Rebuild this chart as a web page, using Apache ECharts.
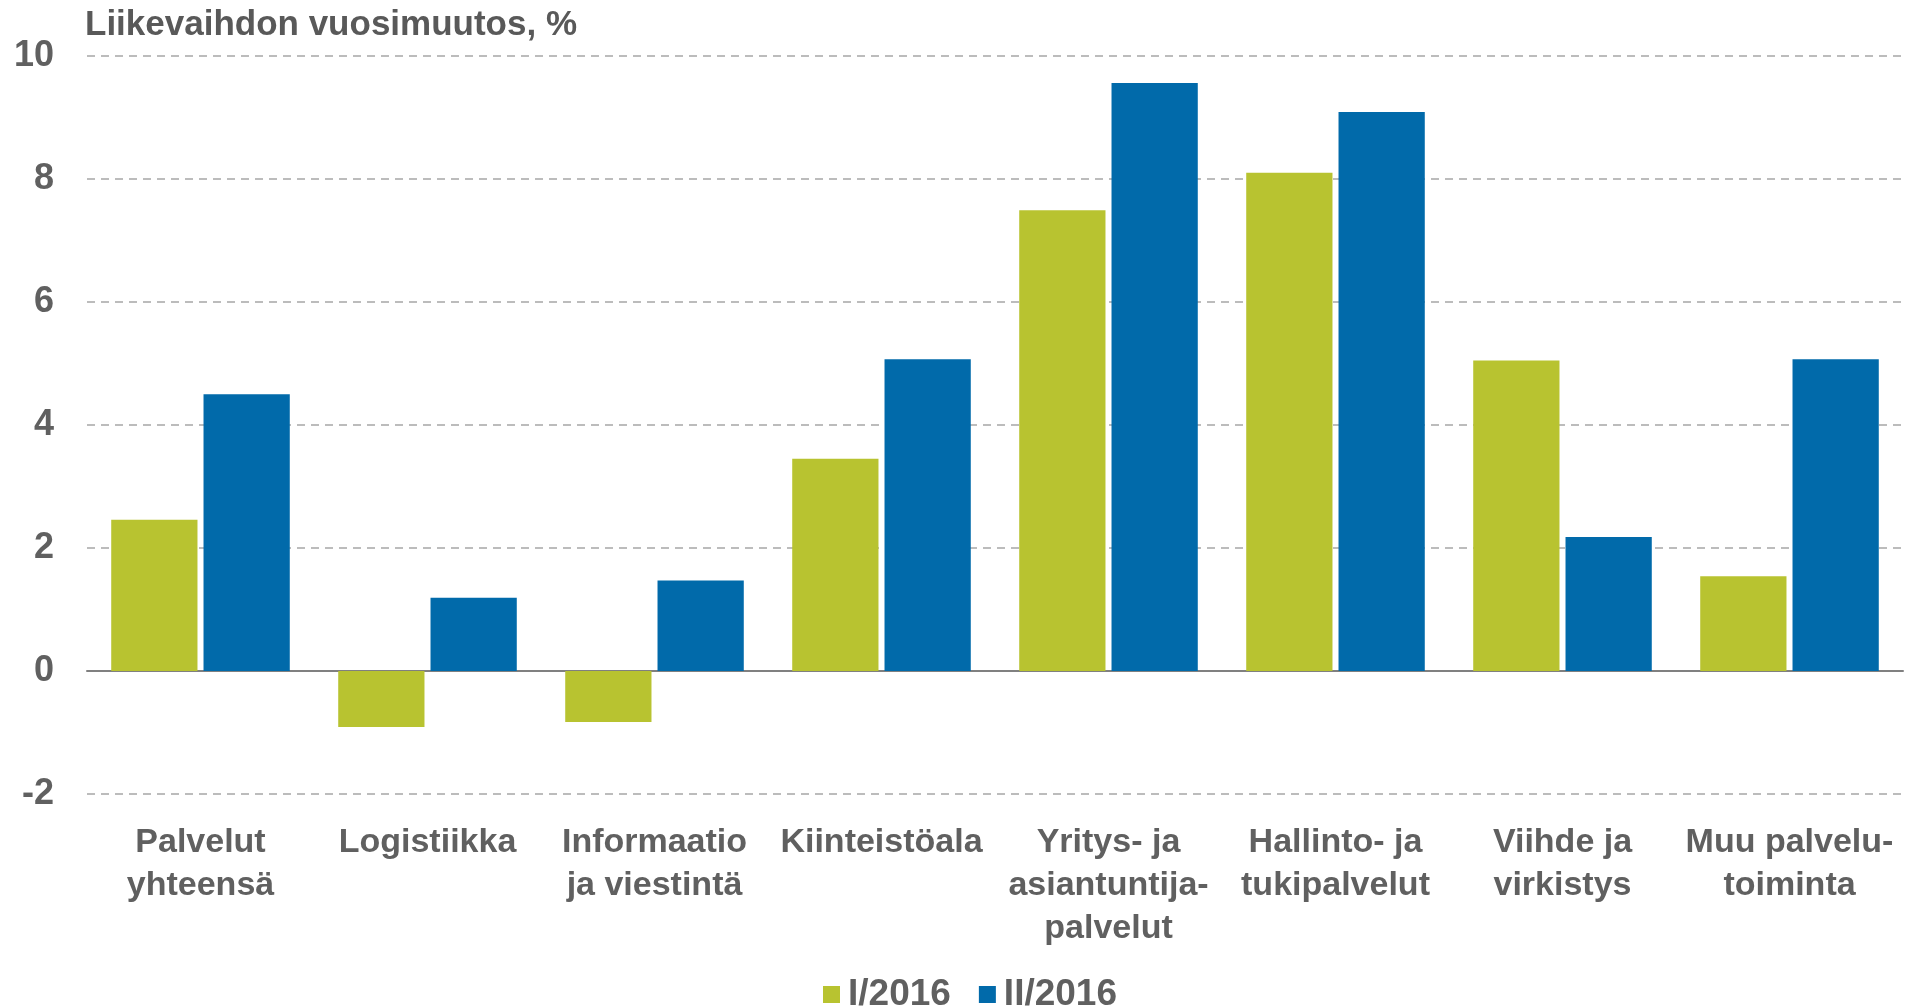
<!DOCTYPE html>
<html>
<head>
<meta charset="utf-8">
<script src="https://cdn.jsdelivr.net/npm/echarts@6/dist/echarts.min.js"></script>
<style>
  html, body { margin: 0; padding: 0; background: #fff; }
  #chart { width: 1905px; height: 1008px; }
</style>
</head>
<body>
<div id="chart"></div>
<script>
var categories = [
    'Palvelut\nyhteensä',
    'Logistiikka',
    'Informaatio\nja viestintä',
    'Kiinteistöala',
    'Yritys- ja\nasiantuntija-\npalvelut',
    'Hallinto- ja\ntukipalvelut',
    'Viihde ja\nvirkistys',
    'Muu palvelu-\ntoiminta'
];
var seriesNames = ['I/2016', 'II/2016'];
var q1Values = [2.46, -0.91, -0.83, 3.45, 7.49, 8.1, 5.05, 1.54];
var q2Values = [4.5, 1.19, 1.47, 5.07, 9.56, 9.09, 2.18, 5.07];
var yTicks = { min: -2, max: 10, interval: 2 };

var textColor = '#606060';
var chart = echarts.init(document.getElementById('chart'));

var option = {
    animation: false,
    title: {
        text: 'Liikevaihdon vuosimuutos, %',
        left: 80,
        top: 3,
        textStyle: {
            fontFamily: 'Liberation Sans, Arial, sans-serif',
            fontWeight: 'bold',
            fontSize: 35,
            color: '#595959'
        }
    },
    legend: {
        data: seriesNames,
        left: 818,
        top: 971,
        itemWidth: 17,
        itemHeight: 17,
        itemGap: 28,
        icon: 'rect',
        textStyle: {
            fontFamily: 'Liberation Sans, Arial, sans-serif',
            fontWeight: 'bold',
            fontSize: 37,
            padding: [0, 0, 0, 3],
            color: textColor
        }
    },
    grid: {
        left: 87,
        right: 2,
        top: 56,
        bottom: 214,
        containLabel: false
    },
    xAxis: {
        type: 'category',
        data: categories,
        axisTick: { show: false },
        axisLine: {
            onZero: true,
            lineStyle: { color: '#808080', width: 2 }
        },
        axisLabel: {
            interval: 0,
            margin: 27,
            fontFamily: "'Liberation Sans Narrow', 'Arial Narrow', sans-serif",
            fontWeight: 'bold',
            fontSize: 34,
            lineHeight: 43,
            color: textColor
        }
    },
    yAxis: {
        type: 'value',
        min: yTicks.min,
        max: yTicks.max,
        interval: yTicks.interval,
        axisLine: { show: false },
        axisTick: { show: false },
        axisLabel: {
            margin: 33,
            fontFamily: 'Liberation Sans, Arial, sans-serif',
            fontWeight: 'bold',
            fontSize: 36,
            color: textColor
        },
        splitLine: {
            lineStyle: { color: '#A6A6A6', width: 1.5, type: [8, 6] }
        }
    },
    series: [
        {
            name: seriesNames[0],
            type: 'bar',
            data: q1Values,
            barWidth: '38%',
            barGap: '7%',
            itemStyle: { color: '#B8C330' }
        },
        {
            name: seriesNames[1],
            type: 'bar',
            data: q2Values,
            barWidth: '38%',
            itemStyle: { color: '#016AAA' }
        }
    ]
};

chart.setOption(option);
window.addEventListener('resize', function () {
    chart.resize();
});
</script>
</body>
</html>
